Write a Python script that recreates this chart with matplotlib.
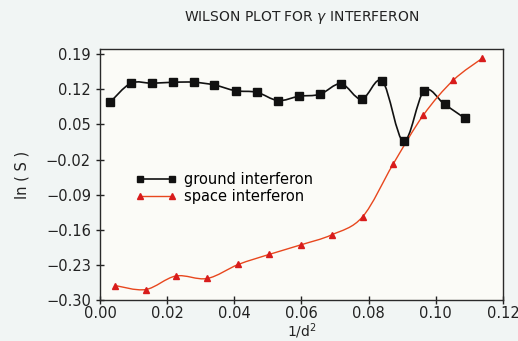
import numpy as np
import matplotlib
matplotlib.use("Agg")
import matplotlib.pyplot as plt
from matplotlib.path import Path
from matplotlib.patches import PathPatch

# --- data ---
ground_x = [0.003, 0.0092, 0.0156, 0.0218, 0.028, 0.0341, 0.0404, 0.0467, 0.053,
            0.0593, 0.0655, 0.0718, 0.0779, 0.0841, 0.0904, 0.0965, 0.1026, 0.1087]
ground_y = [0.094, 0.132, 0.132, 0.134, 0.134, 0.1285, 0.117, 0.114, 0.0975,
            0.106, 0.110, 0.131, 0.100, 0.136, 0.016, 0.117, 0.090, 0.062]

space_x = [0.0045, 0.0136, 0.0226, 0.0319, 0.0412, 0.0504, 0.0598, 0.069, 0.0782,
           0.0873, 0.0963, 0.1052, 0.1139]
space_y = [-0.271, -0.279, -0.252, -0.257, -0.229, -0.209, -0.190, -0.170, -0.134,
           -0.029, 0.0686, 0.138, 0.182]

xticks = [0.00, 0.02, 0.04, 0.06, 0.08, 0.10, 0.12]
yticks = [0.19, 0.12, 0.05, -0.02, -0.09, -0.16, -0.23, -0.30]

labels = ["ground interferon", "space interferon"]
title = r"WILSON PLOT FOR $\gamma$ INTERFERON"


def smooth_path(xs, ys):
    """Catmull-Rom curve through the points, as cubic Bezier segments."""
    xs = np.asarray(xs, float)
    ys = np.asarray(ys, float)
    pts = np.column_stack([xs, ys])
    n = len(pts)
    verts = [pts[0]]
    codes = [Path.MOVETO]
    for i in range(n - 1):
        p0 = pts[i - 1] if i > 0 else pts[i]
        p1 = pts[i]
        p2 = pts[i + 1]
        p3 = pts[i + 2] if i + 2 < n else pts[i + 1]
        c1 = p1 + (p2 - p0) / 6.0
        c2 = p2 - (p3 - p1) / 6.0
        verts += [c1, c2, p2]
        codes += [Path.CURVE4] * 3
    return Path(verts, codes)


fig = plt.figure(figsize=(5.18, 3.41), dpi=100, facecolor="#f1f5f4")
ax = fig.add_axes([0.193, 0.12, 0.778, 0.736])
ax.set_facecolor("#fbfbf7")

black = "#111111"
red_line = "#e8471e"
red_mark = "#d81c1c"

ax.add_patch(PathPatch(smooth_path(ground_x, ground_y), fill=False,
                       edgecolor=black, lw=1.2, zorder=3))
ax.add_patch(PathPatch(smooth_path(space_x, space_y), fill=False,
                       edgecolor=red_line, lw=1.0, zorder=3))
ax.plot(ground_x, ground_y, ls="none", marker="s", ms=5.5, color=black,
        zorder=4)
ax.plot(space_x, space_y, ls="none", marker="^", ms=5, color=red_mark,
        zorder=4)

# legend proxies
h1, = ax.plot([], [], "-s", color=black, ms=5, lw=1.2)
h2, = ax.plot([], [], "-^", color=red_line, mfc=red_mark, mec=red_mark,
              ms=5, lw=1.0)
ax.legend([h1, h2], labels, loc="upper left",
          bbox_to_anchor=(0.07, 0.54), frameon=False, numpoints=2,
          handlelength=2.8, handletextpad=0.5, borderpad=0, labelspacing=0.15,
          fontsize=10.5)

ax.set_xlim(0, 0.12)
ax.set_ylim(-0.30, 0.20)
ax.set_xticks(xticks)
ax.set_yticks(yticks)
ax.set_xticklabels([f"{t:.2f}" for t in xticks])
ax.set_yticklabels([f"{t:.2f}".replace("-", "\u2212") for t in yticks])
ax.tick_params(direction="inout", length=6, width=1.0, labelsize=10.5,
               colors="#222222")
ax.tick_params(axis="x", pad=1.5)
for s in ax.spines.values():
    s.set_color("#2a2a2a")
    s.set_linewidth(1.0)

ax.set_xlabel("1/d$^2$", fontsize=10, labelpad=0, color="#222222")
ax.set_ylabel("ln ( S )", fontsize=10.5, labelpad=12, color="#222222")
ax.set_title(title, fontsize=10, pad=20, color="#222222")

fig.savefig("out.png", dpi=100, facecolor=fig.get_facecolor())
